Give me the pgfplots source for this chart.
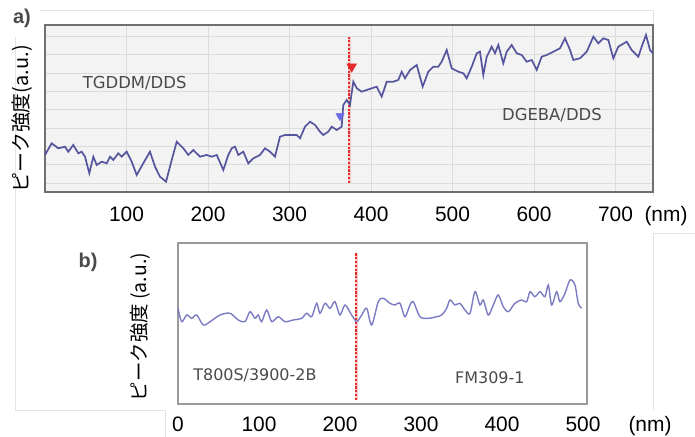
\documentclass[border=0pt]{standalone}
\usepackage{pgfplots}
\pgfplotsset{compat=1.18}
\usepackage{fontspec}
\setmainfont{Liberation Sans}
\newfontfamily\jp{Noto Sans CJK JP}
\newfontfamily\dv{DejaVu Sans}

\definecolor{lineA}{HTML}{55559E}
\definecolor{lineB}{HTML}{7C7CC4}
\definecolor{frameA}{HTML}{707070}
\definecolor{frameB}{HTML}{9A9A9A}
\definecolor{bgA}{HTML}{F3F3F3}
\definecolor{gridA}{HTML}{DCDCDC}
\definecolor{redmark}{HTML}{E42A2A}
\definecolor{redhalo}{HTML}{F6C8C8}
\definecolor{bluemark}{HTML}{6A6AE6}
\definecolor{txt}{HTML}{4A4A4A}
\definecolor{boxline}{HTML}{E4E4E4}

\pgfplotsset{
  profile/.style={
    scale only axis,
    anchor=south west,
    major tick length=0pt,
    ymin=0,
    yticklabels={},
    tick label style={font=\fontsize{21}{21}\selectfont, text=black},
    /pgf/number format/assume math mode=true,
    xticklabel style={anchor=base},
    clip=false,
  },
  interface/.style={redmark, line width=2.4bp, dash pattern=on 2.2bp off 1.6bp},
  interface halo/.style={redhalo, line width=3bp},
}

\begin{document}
\begin{tikzpicture}[x=1bp,y=1bp]
\path[use as bounding box, fill=white] (0,0) rectangle (695,437);

% light outlines of the surrounding boxes
\draw[boxline, line width=0.8bp] (40,427) -- (653,427) -- (653,240);
\draw[boxline, line width=0.8bp] (15,400) -- (15,27) -- (165,27) -- (165,0);
\draw[boxline, line width=0.8bp] (653,204) -- (695,204);
\draw[boxline, line width=0.8bp] (653,204) -- (653,27);

% ---------- panel a ----------
\begin{axis}[profile,
  at={(45bp,245bp)}, width=608bp, height=167bp,
  xmin=0, xmax=746, ymax=167,
  xtick={100,200,...,700},
  ytick={9,27.3,45.6,63.9,82.2,100.5,118.8,137.1,155.4},
  xticklabel style={yshift=-30bp},
  grid=major,
  major grid style={gridA, line width=0.8bp},
  axis background/.style={fill=bgA},
  axis line style={frameA, line width=2bp},
]
% interface position
\addplot[interface halo] coordinates {(373,9) (373,155)};
\addplot[interface] coordinates {(373,9) (373,155)};
\addplot[lineA, line width=1.7bp] coordinates {
(0,37) (8.2,48.7) (16.3,43.7) (24.5,45.3) (28.6,40.3) (34.7,47) (40.9,38.7)
(45.0,40.3) (49.1,35.3) (54.4,18.7) (59.3,35.3) (63.4,27) (69.6,30.3)
(75.7,28.7) (79.8,35.3) (83.8,32) (89.9,38.7) (94.1,35.3) (100.2,40.3)
(106.4,30.3) (112.5,17) (120.6,28.7) (128.8,40.3) (135.0,25.3) (141.1,15.3)
(148.5,10.3) (155.5,32) (161.6,50.3) (169.7,43.7) (175.8,37) (182.0,42)
(184.0,40.3) (190.2,35.3) (198.4,37) (204.5,35.3) (210.7,37) (218.8,22)
(224.9,37) (229.1,43.7) (233.1,45.3) (237.2,37) (243.3,40.3) (249.4,28.7)
(255.6,33.7) (263.8,37) (269.9,43.7) (276.1,40.3) (282.2,35.3) (288.3,55.3)
(294.5,57) (302.7,57) (308.8,57) (312.9,53.7) (319.0,65.3) (325.2,70.3)
(331.3,67) (337.4,60.3) (341.5,57) (347.6,60.3) (351.8,65.3) (357.9,62)
(364.0,65.3) (366.0,87) (370.2,92) (374.2,87) (378.3,110.3) (382.5,103.7)
(388.6,100.3) (394.7,102) (400.9,103.7) (407.0,105.3) (413.1,95.3)
(419.3,110.3) (427.4,110.3) (433.5,112) (437.7,120.3) (441.7,113.7)
(447.9,122) (456.1,127) (463.4,105.3) (470.3,120.3) (476.4,125.3)
(482.6,125.3) (486.7,130.3) (492.9,142) (499.0,123.7) (507.1,120.3)
(513.3,118.7) (517.4,113.7) (523.6,125.3) (529.7,138.7) (533.7,140.3)
(537.8,117) (542.0,135.3) (548.1,145.3) (552.1,138.7) (556.2,147)
(562.3,128.7) (566.5,140.3) (572.6,147) (578.8,138.7) (584.9,137)
(591.0,130.3) (597.2,132) (603.3,122) (609.4,135.3) (615.6,137)
(623.7,140.3) (631.9,143.7) (638.0,153.7) (644.2,142) (648.2,132)
(656.4,133.7) (664.7,140.3) (672.8,155.3) (678.9,148.7) (685.0,153.7)
(691.2,152) (697.3,133.7) (703.4,145.3) (713.7,150.3) (719.8,142)
(728.0,135.3) (732.1,145.3) (737.4,157) (742.3,142) (746.0,138.7)
};
% interface markers
\addplot[only marks, mark=triangle*, mark size=4.8bp,
  mark options={rotate=180, fill=bluemark, draw=bluemark}] coordinates {(362,76)};
\addplot[only marks, mark=triangle*, mark size=5.6bp,
  mark options={rotate=180, fill=redmark, draw=redmark}] coordinates {(376.3,125.3)};
\node[font=\dv\fontsize{16.5}{16.5}\selectfont, text=txt] at (axis cs:110,109) {TGDDM/DDS};
\node[font=\dv\fontsize{16.5}{16.5}\selectfont, text=txt] at (axis cs:622,77) {DGEBA/DDS};
\end{axis}

\node[font=\fontsize{21}{21}\selectfont, anchor=base] at (666,215.3) {(nm)};
\node[font=\fontsize{20}{20}\selectfont\bfseries, text=txt] at (22,419) {a)};
\node[font=\jp\fontsize{20}{20}\selectfont, rotate=90] at (22,318) {ピーク強度(a.u.)};

% ---------- panel b ----------
\begin{axis}[profile,
  at={(178bp,33bp)}, width=409bp, height=161bp,
  xmin=0, xmax=505, ymax=161,
  xtick={0,100,...,500},
  ytick=\empty,
  xticklabel style={yshift=-28bp},
  axis line style={frameB, line width=2bp},
]
\addplot[interface halo] coordinates {(220,4) (220,151)};
\addplot[interface] coordinates {(220,4) (220,151)};
\addplot[lineB, line width=1.4bp, smooth, tension=0.5] coordinates {
(0,95.7) (4.6,82.3) (10.7,89) (16.9,85.7) (23.1,89) (31.2,79) (39.5,82.3)
(51.9,89) (64.2,90.7) (74.4,84) (82.7,82.3) (88.9,92.3) (95.1,85.7)
(99.1,89) (103.3,82.3) (109.5,94) (115.7,82.3) (123.8,87.3) (132.1,82.3)
(142.3,84) (152.7,85.7) (158.9,90.7) (165.1,87.3) (171.2,100.7)
(175.3,90.7) (181.5,100.7) (187.7,95.7) (193.8,102.3) (200.0,89)
(206.2,99) (214.4,89) (220.6,82.3) (226.8,89) (233.0,95.7) (239.1,79)
(247.3,102.3) (253.5,105.7) (261.7,100.7) (267.9,99) (274.1,100.7)
(280.2,87.3) (286.4,99) (290.5,102.3) (298.8,87.3) (309.0,85.7)
(319.4,87.3) (325.6,89) (331.7,95.7) (335.8,104) (342.0,99) (348.1,100.7)
(354.3,94) (360.5,90.7) (366.7,112.3) (372.8,99) (376.9,104) (383.1,89)
(389.3,99) (395.4,109) (401.6,97.3) (407.8,92.3) (416.0,100.7)
(424.3,104) (430.5,102.3) (434.6,112.3) (440.7,107.3) (446.9,112.3)
(453.1,107.3) (457.2,119) (461.4,99) (467.5,112.3) (471.6,102.3)
(477.8,110.7) (484.0,124) (490.1,119) (494.2,100.7) (498.4,95.7)
};
\node[font=\dv\fontsize{16}{16}\selectfont, text=txt] at (axis cs:95,29) {T800S/3900-2B};
\node[font=\dv\fontsize{16}{16}\selectfont, text=txt] at (axis cs:385,26) {FM309-1};
\end{axis}

\node[font=\fontsize{21}{21}\selectfont, anchor=base] at (650,5.3) {(nm)};
\node[font=\fontsize{20}{20}\selectfont\bfseries, text=txt] at (88,175) {b)};
\node[font=\jp\fontsize{19.5}{19.5}\selectfont, rotate=90] at (140,110) {ピーク強度 (a.u.)};
\end{tikzpicture}
\end{document}
